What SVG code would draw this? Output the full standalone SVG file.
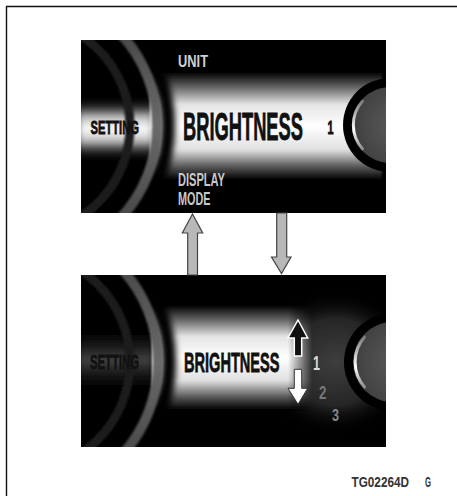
<svg xmlns="http://www.w3.org/2000/svg" width="457" height="496" viewBox="0 0 457 496">
<style>
.t{font-family:"Liberation Sans",Arial,sans-serif;font-weight:bold}
.b{stroke:#111;stroke-width:0.8}
.conn{fill:#b8b8b8;stroke:#444;stroke-width:1.2;stroke-linejoin:miter}
.hl{fill:none;stroke:url(#hl);stroke-width:3;stroke-linecap:round}
</style>
<defs>
<clipPath id="cpTop"><rect x="81" y="40" width="305" height="173"/></clipPath>
<clipPath id="cpBot"><rect x="81" y="275" width="305" height="172"/></clipPath>
<linearGradient id="bandV" x1="0" y1="0" x2="0" y2="1">
<stop offset="0" stop-color="#000"/><stop offset="0.12" stop-color="#555"/><stop offset="0.3" stop-color="#e4e4e4"/><stop offset="0.5" stop-color="#fff"/><stop offset="0.72" stop-color="#e0e0e0"/><stop offset="0.88" stop-color="#555"/><stop offset="1" stop-color="#000"/>
</linearGradient>
<linearGradient id="fadeM" gradientUnits="userSpaceOnUse" x1="288" y1="0" x2="312" y2="0">
<stop offset="0" stop-color="#fff"/><stop offset="1" stop-color="#000"/>
</linearGradient>
<mask id="bandMask" maskUnits="userSpaceOnUse" x="81" y="275" width="305" height="172">
<rect x="81" y="275" width="305" height="172" fill="url(#fadeM)"/>
</mask>
<linearGradient id="glowV" x1="0" y1="0" x2="0" y2="1">
<stop offset="0" stop-color="#000" stop-opacity="0"/><stop offset="0.3" stop-color="#bbb"/><stop offset="0.5" stop-color="#fff"/><stop offset="0.7" stop-color="#bbb"/><stop offset="1" stop-color="#000" stop-opacity="0"/>
</linearGradient>
<linearGradient id="dimV" x1="0" y1="0" x2="0" y2="1">
<stop offset="0" stop-color="#000" stop-opacity="0"/><stop offset="0.5" stop-color="#444"/><stop offset="1" stop-color="#000" stop-opacity="0"/>
</linearGradient>
<radialGradient id="darkR" cx="0.5" cy="0.5" r="0.5">
<stop offset="0" stop-color="#3e3e3e"/><stop offset="0.6" stop-color="#262626"/><stop offset="1" stop-color="#000" stop-opacity="0"/>
</radialGradient>
<linearGradient id="ringG" x1="0" y1="0" x2="0" y2="1">
<stop offset="0" stop-color="#3a3a3a"/><stop offset="0.5" stop-color="#6a6a6a"/><stop offset="1" stop-color="#3a3a3a"/>
</linearGradient>
<radialGradient id="disk" cx="0.6" cy="0.5" r="0.6">
<stop offset="0" stop-color="#5c5c5c"/><stop offset="1" stop-color="#404040"/>
</radialGradient>
<linearGradient id="hl" x1="0" y1="0" x2="0" y2="1">
<stop offset="0" stop-color="#fff" stop-opacity="0.3"/><stop offset="0.6" stop-color="#fff" stop-opacity="1"/><stop offset="1" stop-color="#fff" stop-opacity="0.4"/>
</linearGradient>
<filter id="soft" x="-20%" y="-20%" width="140%" height="140%"><feGaussianBlur stdDeviation="3"/></filter>
<filter id="soft1" x="-20%" y="-20%" width="140%" height="140%"><feGaussianBlur stdDeviation="1.2"/></filter>
</defs>

<g id="frame">
<path d="M6.5,496 V6.5 H457" fill="none" stroke="#111" stroke-width="1.4"/>
</g>

<g id="panel-top">
<rect x="81" y="40" width="305" height="173" fill="#000"/>
<g clip-path="url(#cpTop)">
<rect x="78" y="98" width="75" height="62" fill="url(#glowV)" filter="url(#soft)"/>
<circle cx="22" cy="126" r="108" fill="none" stroke="#1c1c1c" stroke-width="9" filter="url(#soft1)"/>
<rect x="150" y="72" width="232" height="108" fill="url(#bandV)" filter="url(#soft1)"/>
<circle cx="22" cy="126" r="146" fill="none" stroke="#000" stroke-width="14" filter="url(#soft)"/>
<circle cx="22" cy="126" r="135" fill="none" stroke="url(#ringG)" stroke-width="10" filter="url(#soft1)"/>
<circle cx="390" cy="125" r="47" fill="#000"/>
<circle cx="390" cy="125" r="38" fill="url(#disk)"/>
<path class="hl" d="M362.5,101 A36,36 0 0 0 362.5,149"/>
</g>
<text class="t" x="178" y="67" font-size="17" textLength="30" lengthAdjust="spacingAndGlyphs" fill="#d0d0d0">UNIT</text>
<text class="t b" x="90.5" y="133.5" font-size="18" textLength="48.5" lengthAdjust="spacingAndGlyphs" fill="#111">SETTING</text>
<text class="t b" x="183" y="140" font-size="39" textLength="120" lengthAdjust="spacingAndGlyphs" fill="#111" stroke-width="1.3">BRIGHTNESS</text>
<text class="t b" x="327.5" y="134" font-size="19" textLength="6" lengthAdjust="spacingAndGlyphs" fill="#111">1</text>
<text class="t" x="178" y="186" font-size="18.5" textLength="47" lengthAdjust="spacingAndGlyphs" fill="#c8c8c8">DISPLAY</text>
<text class="t" x="178" y="205" font-size="18.5" textLength="32.5" lengthAdjust="spacingAndGlyphs" fill="#c8c8c8">MODE</text>
</g>

<g id="panel-bottom">
<rect x="81" y="275" width="305" height="172" fill="#000"/>
<g clip-path="url(#cpBot)">
<rect x="78" y="325" width="75" height="70" fill="url(#dimV)" filter="url(#soft)"/>
<circle cx="20" cy="362" r="110" fill="none" stroke="#1a1a1a" stroke-width="9" filter="url(#soft1)"/>
<ellipse cx="335" cy="362" rx="80" ry="72" fill="url(#darkR)"/>
<g mask="url(#bandMask)">
<rect x="152" y="305" width="170" height="105" fill="url(#bandV)" filter="url(#soft1)"/>
</g>
<circle cx="20" cy="362" r="149" fill="none" stroke="#000" stroke-width="14" filter="url(#soft)"/>
<circle cx="20" cy="362" r="138" fill="none" stroke="url(#ringG)" stroke-width="10" filter="url(#soft1)"/>
<circle cx="393" cy="362" r="49" fill="#000"/>
<circle cx="393" cy="362" r="40" fill="url(#disk)"/>
<path class="hl" d="M364.5,337 A38,38 0 0 0 364.5,387"/>
</g>
<text class="t b" x="90" y="368.5" font-size="21" textLength="49" lengthAdjust="spacingAndGlyphs" fill="#111">SETTING</text>
<text class="t b" x="184" y="371.5" font-size="28" textLength="95.5" lengthAdjust="spacingAndGlyphs" fill="#111" stroke-width="1">BRIGHTNESS</text>
<polygon points="298,320 307.7,338 301.7,338 301.7,356 294.3,356 294.3,338 288,338" fill="#111" stroke="#fff" stroke-width="1.5"/>
<polygon points="294.3,369.3 301.7,369.3 301.7,388.3 307.7,388.3 298,404.3 288,388.3 294.3,388.3" fill="#fff" stroke="#333" stroke-width="1"/>
<text class="t" x="313" y="370" font-size="21" textLength="7" lengthAdjust="spacingAndGlyphs" fill="#ddd">1</text>
<text class="t" x="319" y="398.5" font-size="18" textLength="7.5" lengthAdjust="spacingAndGlyphs" fill="#777">2</text>
<text class="t" x="332" y="421" font-size="17" textLength="7" lengthAdjust="spacingAndGlyphs" fill="#888">3</text>
</g>

<g id="connectors">
<polygon class="conn" points="192.5,214 202.7,233 197.5,233 197.5,275 187.7,275 187.7,233 182.3,233"/>
<polygon class="conn" points="276.7,213 286.7,213 286.7,257 291,257 281.5,273.5 271.5,257 276.7,257"/>
</g>

<g id="label">
<text class="t" x="351.5" y="486.5" font-size="14" textLength="57.5" lengthAdjust="spacingAndGlyphs" fill="#333">TG02264D</text>
<text class="t" x="425" y="486.5" font-size="14" textLength="6" lengthAdjust="spacingAndGlyphs" fill="#333">G</text>
</g>
</svg>
